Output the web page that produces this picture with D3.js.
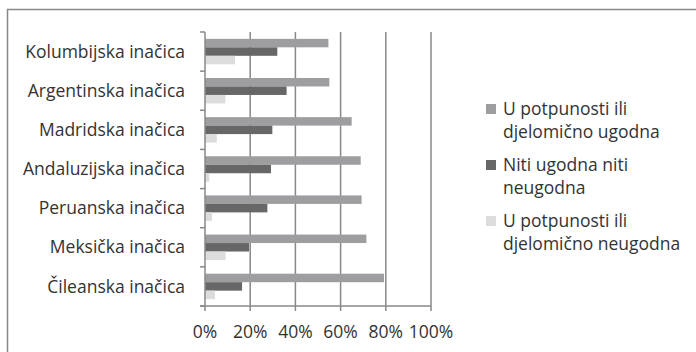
<!DOCTYPE html>
<html>
<head>
<meta charset="utf-8">
<script src="https://cdn.jsdelivr.net/npm/d3@7"></script>
<style>
  body { margin: 0; background: #fff; }
  text { font-family: "Open Sans", Lato, sans-serif; fill: #333; }
</style>
</head>
<body>
<div id="chart"></div>
<script>
// categories, top to bottom
var categories = ["Kolumbijska inačica", "Argentinska inačica", "Madridska inačica",
  "Andaluzijska inačica", "Peruanska inačica", "Meksička inačica", "Čileanska inačica"];

var seriesNames = ["U potpunosti ili djelomično ugodna", "Niti ugodna niti neugodna",
  "U potpunosti ili djelomično neugodna"];

// percent values
var ugodna = [54.6, 55.0, 64.9, 68.9, 69.3, 71.4, 79.2];
var neutralno = [32.0, 36.1, 29.8, 29.2, 27.6, 19.5, 16.4];
var neugodna = [13.3, 9.0, 5.2, 1.9, 3.1, 9.1, 4.4];

var xTicks = [0, 20, 40, 60, 80, 100];
var colors = ["#9e9ea1", "#676767", "#dcdcdc"];

var legendLines = [["U potpunosti ili", "djelomično ugodna"],
  ["Niti ugodna niti", "neugodna"],
  ["U potpunosti ili", "djelomično neugodna"]];

var svgWidth = 696, svgHeight = 352;
var margin = {top: 32, left: 205};
var width = 226, height = 274;
var fontSize = "17.5px";

var svg = d3.select("#chart").append("svg")
  .attr("width", svgWidth)
  .attr("height", svgHeight);

// outer frame
svg.append("path")
  .attr("d", "M7.5," + svgHeight + "V9.5H" + svgWidth)
  .attr("fill", "none")
  .attr("stroke", "#888")
  .attr("stroke-width", 1.5);

var chartGroup = svg.append("g")
  .attr("transform", `translate(${margin.left}, ${margin.top})`);

var xScale = d3.scaleLinear().domain([0, 100]).range([0, width]);

var yScale = d3.scaleBand()
  .domain(categories)
  .range([0, height])
  .paddingInner(0.35)
  .paddingOuter(0.175);

var innerScale = d3.scaleBand()
  .domain([0, 1, 2])
  .range([0, yScale.bandwidth()]);

// gridlines
chartGroup.selectAll(".grid")
  .data(xTicks.slice(1))
  .enter().append("line")
  .attr("x1", d => xScale(d)).attr("x2", d => xScale(d))
  .attr("y1", 0).attr("y2", height)
  .attr("stroke", "#888")
  .attr("stroke-width", 1.5);

var rows = categories.map((c, i) => ({cat: c, vals: [ugodna[i], neutralno[i], neugodna[i]]}));

var groups = chartGroup.selectAll(".row")
  .data(rows)
  .enter().append("g")
  .attr("transform", d => `translate(0, ${yScale(d.cat)})`);

groups.selectAll("rect")
  .data(d => d.vals.map((v, k) => ({v: v, k: k})))
  .enter().append("rect")
  .attr("x", 0)
  .attr("y", d => innerScale(d.k))
  .attr("width", d => xScale(d.v))
  .attr("height", innerScale.bandwidth())
  .attr("fill", d => colors[d.k]);

// y axis: boundary ticks and labels
var yBounds = d3.range(categories.length + 1).map(i => i * yScale.step());
chartGroup.selectAll(".ytick")
  .data(yBounds)
  .enter().append("line")
  .attr("x1", -5).attr("x2", 0)
  .attr("y1", d => d).attr("y2", d => d)
  .attr("stroke", "#888").attr("stroke-width", 1.5);

chartGroup.append("line")
  .attr("x1", 0).attr("x2", 0).attr("y1", 0).attr("y2", height)
  .attr("stroke", "#888").attr("stroke-width", 1.5);

chartGroup.selectAll(".ylabel")
  .data(categories)
  .enter().append("text")
  .attr("x", -20)
  .attr("y", d => yScale(d) + yScale.bandwidth() / 2)
  .attr("dy", "0.35em")
  .attr("text-anchor", "end")
  .style("font-size", fontSize)
  .text(d => d);

// x axis
chartGroup.append("line")
  .attr("x1", -5).attr("x2", width).attr("y1", height).attr("y2", height)
  .attr("stroke", "#888").attr("stroke-width", 1.5);

chartGroup.selectAll(".xtick")
  .data(xTicks)
  .enter().append("line")
  .attr("x1", d => xScale(d)).attr("x2", d => xScale(d))
  .attr("y1", height).attr("y2", height + 5)
  .attr("stroke", "#888").attr("stroke-width", 1.5);

chartGroup.selectAll(".xlabel")
  .data(xTicks)
  .enter().append("text")
  .attr("x", d => xScale(d))
  .attr("y", height + 26)
  .attr("dy", "0.35em")
  .attr("text-anchor", "middle")
  .style("font-size", fontSize)
  .text(d => d + "%");

// legend
var legend = svg.selectAll(".legend")
  .data(seriesNames)
  .enter().append("g")
  .attr("transform", (d, i) => `translate(486, ${109 + i * 56})`);

legend.append("rect")
  .attr("x", 0).attr("y", -5)
  .attr("width", 10).attr("height", 10)
  .attr("fill", (d, i) => colors[i]);

legend.append("text")
  .style("font-size", fontSize)
  .selectAll("tspan")
  .data((d, i) => legendLines[i])
  .enter().append("tspan")
  .attr("x", 17)
  .attr("y", (d, j) => j * 23)
  .attr("dy", "0.35em")
  .text(d => d);
</script>
</body>
</html>
